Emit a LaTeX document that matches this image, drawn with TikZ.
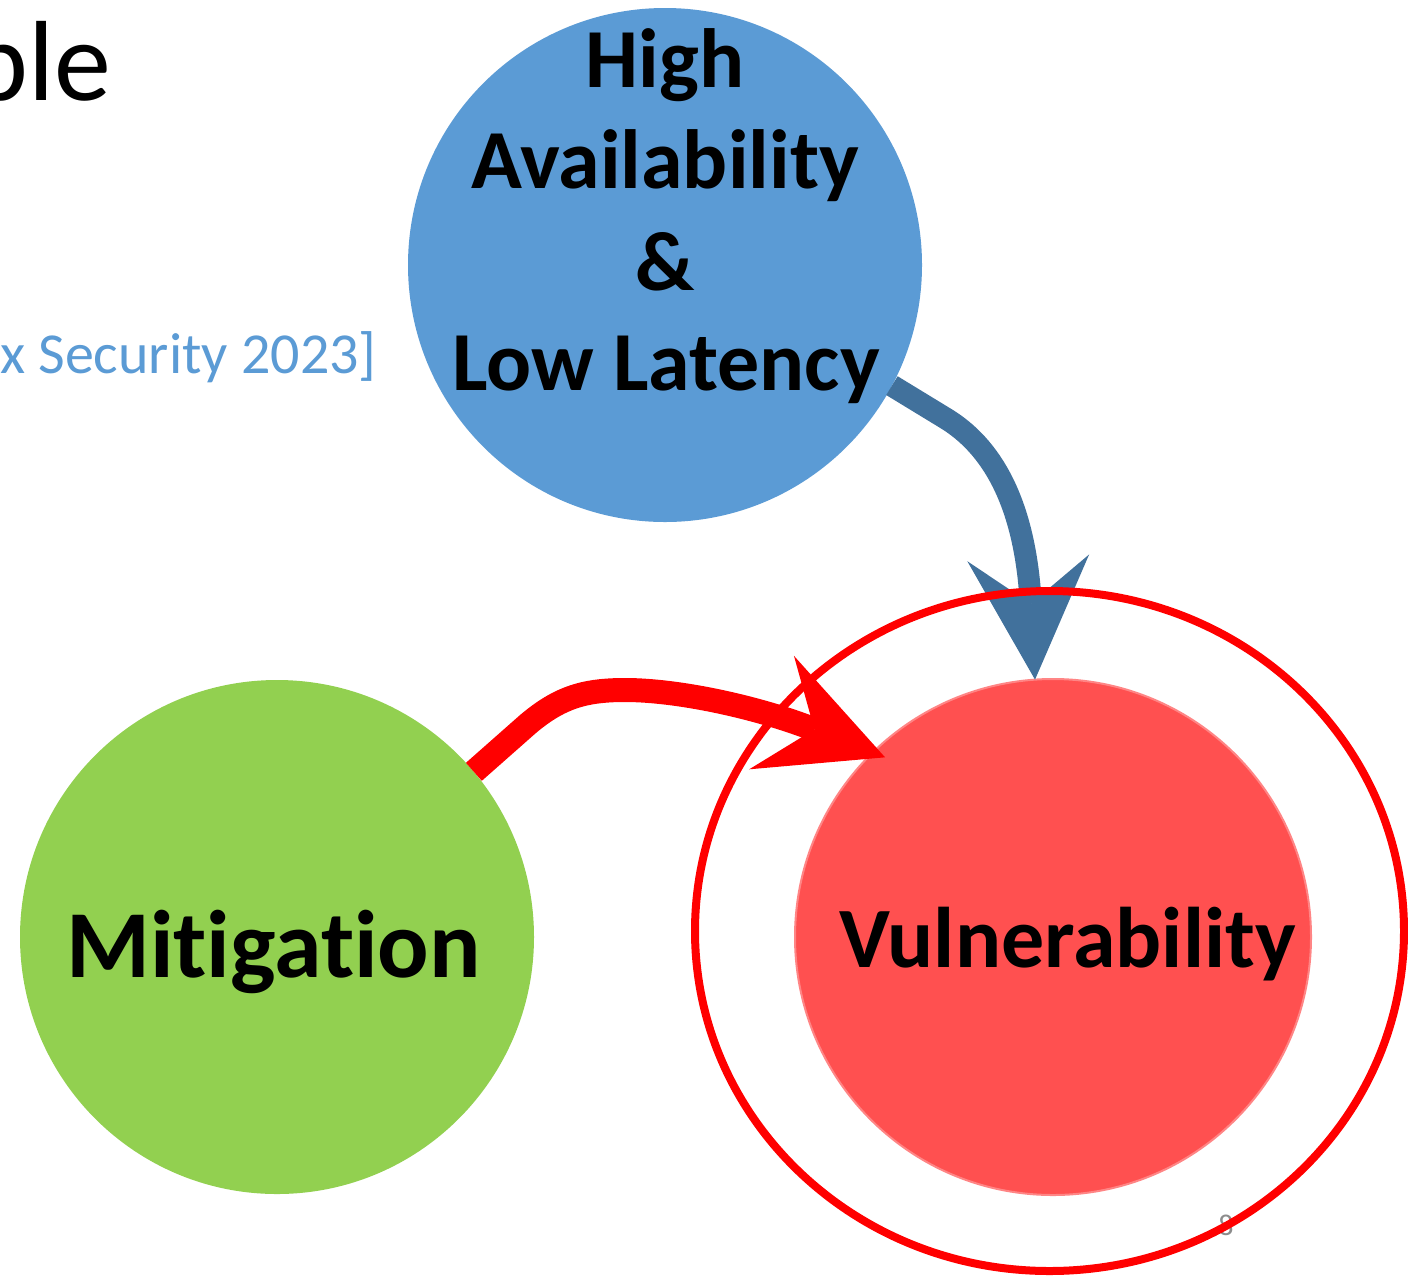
\documentclass[tikz,border=0pt]{standalone}
\usepackage{fontspec}
\setmainfont{Carlito}[Ligatures=NoCommon]
\usetikzlibrary{arrows.meta,shapes.geometric}
\definecolor{bluefill}{HTML}{5B9BD5}
\definecolor{greenfill}{HTML}{92D050}
\definecolor{redfill}{HTML}{FF5050}
\definecolor{redrim}{HTML}{FF8585}
\definecolor{bluearrow}{HTML}{41719C}
\definecolor{pagegray}{HTML}{8C8C8C}

\begin{document}
\begin{tikzpicture}[x=0.5pt,y=-0.5pt,
  bubble/.style={circle, inner sep=0pt, outer sep=0pt},
  bigarrow/.style={-{Stealth[length=61pt,width=61pt,inset=23pt,line width=0pt]}},
  boldtext/.style={anchor=base, inner sep=0pt, font=\fontsize{#1}{#1}\selectfont\bfseries},
]
\useasboundingbox (0,0) rectangle (1408,1275);
\fill[white] (0,0) rectangle (1408,1275);

% slide title fragment and citation
\node[anchor=base east, inner sep=0pt, font=\fontsize{57}{68}\selectfont] (title) at (112,100) {ple};
\node[anchor=base east, inner sep=0pt, text=bluefill, font=\fontsize{29}{35}\selectfont] (cite) at (377,373) {x Security 2023]};

% the three bubbles
\node[bubble, fill=bluefill, minimum size=257pt] (avail) at (665,265) {};
\node[bubble, fill=greenfill, minimum size=257pt] (mitig) at (277,937) {};
\node[bubble, fill=redfill, draw=redrim, line width=1pt, minimum size=258pt] (vuln) at (1053,937) {};

% page number
\node[anchor=base, inner sep=0pt, text=pagegray, font=\fontsize{15}{18}\selectfont] (page) at (1226,1235) {8};

% connectors into the vulnerability bubble
\coordinate (redtip) at ([xshift=4pt,yshift=-4.5pt]vuln.133);
\draw[bigarrow, bluearrow, line width=11pt]
  (avail.-28) -- (945,418) .. controls (990,445) and (1025,500) .. (vuln.94);
\draw[bigarrow, red, line width=12pt]
  (mitig.40) -- (528,724) .. controls (560,697) and (585,690) .. (625,690)
  .. controls (680,690) and (760,708) .. (redtip);

% highlight ring
\node[ellipse, draw=red, line width=4pt, inner sep=0pt, minimum width=354.5pt, minimum height=340pt] (ring) at (1049.5,931) {};

% bubble labels
\node[boldtext=42] (l1) at (665,87) {High};
\node[boldtext=42] (l2) at (665,188) {Availability};
\node[boldtext=42] (l3) at (665,290) {\&};
\node[boldtext=42] (l4) at (666,390) {Low Latency};
\node[boldtext=48] (lm) at (273.5,977) {Mitigation};
\node[boldtext=43] (lv) at (1067.5,967) {Vulnerability};
\end{tikzpicture}
\end{document}
